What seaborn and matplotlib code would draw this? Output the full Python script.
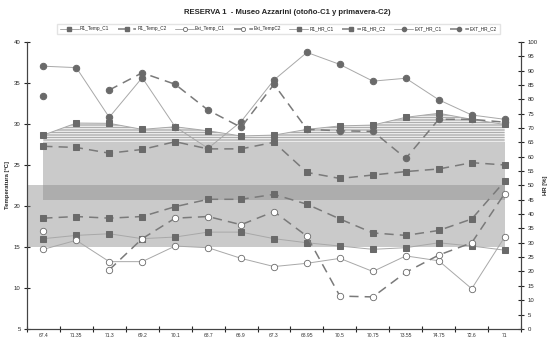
import matplotlib.pyplot as plt
import numpy as np
import pandas as pd
import seaborn as sns
from matplotlib.lines import Line2D

sns.set_theme(style="ticks")
plt.rcParams["font.family"] = ["Liberation Sans", "DejaVu Sans"]
plt.rcParams["hatch.linewidth"] = 0.5
plt.rcParams["hatch.color"] = "#8c8c8c"

# x categories as they appear on the axis
categories = ["67.4", "71.35", "71.3", "69.2", "70.1", "68.7", "66.9", "67.3",
              "68.95", "70.5", "70.75", "73.55", "74.75", "72.6", "71"]

# temperature series [ºC] (left axis)
r1_temp_c1 = [16.0, 16.4, 16.6, 16.0, 16.2, 16.8, 16.8, 16.0, 15.5, 15.1, 14.7, 14.9, 15.5, 15.1, 14.6]
r1_temp_c2 = [18.5, 18.7, 18.5, 18.7, 19.9, 20.8, 20.8, 21.4, 20.2, 18.4, 16.7, 16.4, 17.0, 18.4, 23.0]
ext_temp_c1 = [14.7, 15.8, 13.2, 13.2, 15.1, 14.9, 13.6, 12.6, 13.0, 13.6, 12.0, 13.9, 13.3, 9.9, 16.2]
ext_temp_c2 = [16.9, np.nan, 12.2, 16.0, 18.5, 18.7, 17.7, 19.3, 16.3, 9.0, 8.9, 11.9, 14.0, 15.5, 21.5]

# relative humidity series [%] (right axis)
r1_hr_c1 = [67.5, 71.7, 71.6, 69.5, 70.4, 69.0, 67.2, 67.5, 69.5, 70.7, 71.0, 73.7, 75.1, 73.0, 71.2]
r1_hr_c2 = [63.6, 63.2, 61.2, 62.5, 65.2, 62.7, 62.7, 65.0, 54.5, 52.4, 53.6, 54.8, 55.7, 57.9, 57.1]
ext_hr_c1 = [91.5, 91.0, 73.7, 87.5, 70.4, 62.9, 72.2, 86.7, 96.3, 92.1, 86.3, 87.3, 79.8, 74.5, 73.0]
ext_hr_c2 = [81.2, np.nan, 83.2, 89.2, 85.2, 76.2, 70.2, 85.2, 69.5, 69.0, 68.8, 59.4, 73.0, 73.0, 72.0]

# comfort ranges
temp_band = (15, 22.5)
hr_band = (45, 65)

MARK = "#6a6a6a"
SOLID = dict(color="#a8a8a8", linewidth=0.7)
DASHED = dict(color="#7a7a7a", linewidth=1.1, linestyle=(0, (6, 4)))
SQ = dict(marker="s", markersize=4.3, markerfacecolor=MARK, markeredgecolor=MARK)
DOT = dict(marker="o", markersize=4.6, markerfacecolor=MARK, markeredgecolor=MARK)
RING = dict(marker="o", markersize=4.6, markerfacecolor="white", markeredgecolor=MARK, markeredgewidth=0.6)

series = [
    ("R1_Temp_C1", "temp", r1_temp_c1, {**SOLID, **SQ}),
    ("R1_Temp_C2", "temp", r1_temp_c2, {**DASHED, **SQ}),
    ("Ext_Temp_C1", "temp", ext_temp_c1, {**SOLID, **RING}),
    ("Ext_TempC2", "temp", ext_temp_c2, {**DASHED, **RING}),
    ("R1_HR_C1", "hr", r1_hr_c1, {**SOLID, **SQ}),
    ("R1_HR_C2", "hr", r1_hr_c2, {**DASHED, **SQ}),
    ("EXT_HR_C1", "hr", ext_hr_c1, {**SOLID, **DOT}),
    ("EXT_HR_C2", "hr", ext_hr_c2, {**DASHED, **DOT}),
]


def draw_series(ax, values, style):
    """Line plot that breaks at missing values instead of bridging them."""
    s = pd.Series(values, dtype=float)
    ok = s.notna()
    for _, part in s[ok].groupby(s.isna().cumsum()[ok]):
        sns.lineplot(x=part.index, y=part.values, ax=ax, estimator=None,
                     sort=False, zorder=3, **style)


fig = plt.figure(figsize=(5.48, 3.37), dpi=100)
ax = fig.add_axes([0.049, 0.024, 0.902, 0.852])
ax2 = ax.twinx()
ax.set_zorder(ax2.get_zorder() + 1)
ax.patch.set_visible(False)

x = np.arange(len(categories))

# comfort bands and hatched area
ax.fill_between([-0.5, x[-1]], *temp_band, color="#8a8a8a", alpha=0.45, linewidth=0, zorder=1)
ax2.fill_between([x[0], x[-1]], *hr_band, color="#8a8a8a", alpha=0.45, linewidth=0, zorder=1)
ax2.fill_between(x, hr_band[1], r1_hr_c1, facecolor="white", edgecolor="#8c8c8c",
                 hatch="----------", linewidth=0, zorder=1)

for name, axis, values, style in series:
    draw_series(ax if axis == "temp" else ax2, values, style)

ax.set_xlim(-0.5, len(categories) - 0.5)
ax.set_ylim(5, 40)
ax2.set_ylim(0, 100)
ax.set_yticks(range(5, 41, 5))
ax2.set_yticks(range(0, 101, 5))
ax.set_xticks(x)
ax.set_xticklabels(categories)
ax.set_xticks(np.arange(-0.5, len(categories), 1), minor=True)
ax.tick_params(axis="x", which="major", length=0, labelsize=3.6, pad=3, colors="#333333")
ax.tick_params(axis="x", which="minor", direction="inout", length=5, width=0.8)
ax.tick_params(axis="y", direction="inout", length=5, width=0.8, labelsize=4.3, pad=2)
ax2.tick_params(axis="y", direction="inout", length=5, width=0.8, labelsize=4.3, pad=2)

for a in (ax, ax2):
    a.set_xlabel("")
    a.spines["top"].set_visible(False)
    for side in ("left", "right", "bottom"):
        a.spines[side].set_linewidth(0.8)
        a.spines[side].set_color("#444444")

ax.set_ylabel("Temperatura [ºC]", fontsize=4.3, fontweight="bold", labelpad=3)
ax2.set_ylabel("HR [%]", fontsize=4.3, fontweight="bold", labelpad=4)

handles = [Line2D([], [], label=name, **{**style, "markersize": 3})
           for name, _, _, style in series]
fig.legend(handles=handles, loc="center", bbox_to_anchor=(0.508, 0.914), ncol=8,
           fontsize=3.4, frameon=True, fancybox=False, edgecolor="#dddddd",
           handlelength=4, columnspacing=1.8, borderpad=0.6, handletextpad=0.2)

fig.text(0.524, 0.963, "RESERVA 1  - Museo Azzarini (otoño-C1 y primavera-C2)",
         ha="center", va="center", fontsize=5.6, fontweight="bold")

fig.savefig("out.png", dpi=100)
